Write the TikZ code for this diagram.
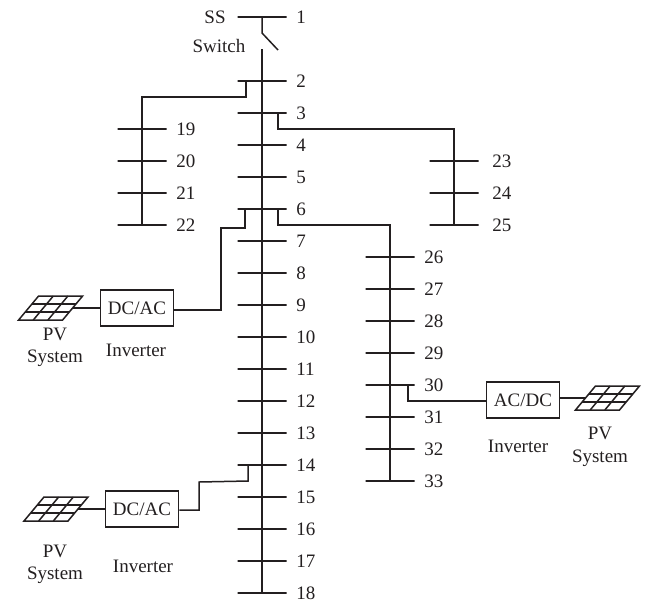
\documentclass[tikz,border=0pt]{standalone}
\usepackage{fontspec}
\setmainfont{Liberation Serif}
\usepackage{tikz}
\usetikzlibrary{positioning}
\definecolor{ink}{HTML}{231F20}
\tikzset{pvpanel/.pic={
\draw (-32,12) -- (12,12) -- (32,-12) -- (-12,-12) -- cycle;
\draw (-18.67,-4) -- (25.33,-4);
\draw (-25.33,4) -- (18.67,4);
\draw (-17.33,12) -- (2.67,-12);
\draw (-2.67,12) -- (17.33,-12);
\coordinate (-e) at (22,0);
\coordinate (-w) at (-22,0);
}}

\begin{document}
\begin{tikzpicture}[x=1pt, y=-1pt, node distance=32pt, line width=1.5pt, color=ink,
every node/.style = {font=\fontsize{19}{21}\selectfont},
main/.style = {draw, inner sep=0pt, outer sep=0pt, minimum width=49pt, minimum height=0pt},
num/.style = {inner sep=0pt},
txt/.style = {inner sep=0pt},
inv/.style = {draw, inner sep=0pt, minimum width=73pt, minimum height=36pt}]
\useasboundingbox (0,0) rectangle (650,603);

\node[main] (1) at (262,17) {};
\node[main] (2) at (262,81) {};
\node[main] (3)[below of = 2] {};
\node[main] (4)[below of = 3] {};
\node[main] (5)[below of = 4] {};
\node[main] (6)[below of = 5] {};
\node[main] (7)[below of = 6] {};
\node[main] (8)[below of = 7] {};
\node[main] (9)[below of = 8] {};
\node[main] (10)[below of = 9] {};
\node[main] (11)[below of = 10] {};
\node[main] (12)[below of = 11] {};
\node[main] (13)[below of = 12] {};
\node[main] (14)[below of = 13] {};
\node[main] (15)[below of = 14] {};
\node[main] (16)[below of = 15] {};
\node[main] (17)[below of = 16] {};
\node[main] (18)[below of = 17] {};

\node[main] (19) at (142,129) {};
\node[main] (20)[below of = 19] {};
\node[main] (21)[below of = 20] {};
\node[main] (22)[below of = 21] {};

\node[main] (23) at (454,161) {};
\node[main] (24)[below of = 23] {};
\node[main] (25)[below of = 24] {};

\node[main] (26) at (390,257) {};
\node[main] (27)[below of = 26] {};
\node[main] (28)[below of = 27] {};
\node[main] (29)[below of = 28] {};
\node[main] (30)[below of = 29] {};
\node[main] (31)[below of = 30] {};
\node[main] (32)[below of = 31] {};
\node[main] (33)[below of = 32] {};

\node[num] (l1)[right=9pt of 1] {1};
\node[num] (l2)[right=9pt of 2] {2};
\node[num] (l3)[right=9pt of 3] {3};
\node[num] (l4)[right=9pt of 4] {4};
\node[num] (l5)[right=9pt of 5] {5};
\node[num] (l6)[right=9pt of 6] {6};
\node[num] (l7)[right=9pt of 7] {7};
\node[num] (l8)[right=9pt of 8] {8};
\node[num] (l9)[right=9pt of 9] {9};
\node[num] (l10)[right=9pt of 10] {10};
\node[num] (l11)[right=9pt of 11] {11};
\node[num] (l12)[right=9pt of 12] {12};
\node[num] (l13)[right=9pt of 13] {13};
\node[num] (l14)[right=9pt of 14] {14};
\node[num] (l15)[right=9pt of 15] {15};
\node[num] (l16)[right=9pt of 16] {16};
\node[num] (l17)[right=9pt of 17] {17};
\node[num] (l18)[right=9pt of 18] {18};
\node[num] (l19)[right=9pt of 19] {19};
\node[num] (l20)[right=9pt of 20] {20};
\node[num] (l21)[right=9pt of 21] {21};
\node[num] (l22)[right=9pt of 22] {22};
\node[num] (l23)[right=13pt of 23] {23};
\node[num] (l24)[right=13pt of 24] {24};
\node[num] (l25)[right=13pt of 25] {25};
\node[num] (l26)[right=9pt of 26] {26};
\node[num] (l27)[right=9pt of 27] {27};
\node[num] (l28)[right=9pt of 28] {28};
\node[num] (l29)[right=9pt of 29] {29};
\node[num] (l30)[right=9pt of 30] {30};
\node[num] (l31)[right=9pt of 31] {31};
\node[num] (l32)[right=9pt of 32] {32};
\node[num] (l33)[right=9pt of 33] {33};

\node[txt] (ss) at (215,17) {SS};
\node[txt] (switch) at (219,46) {Switch};

\node[inv] (inv1) at (137,308) {DC/AC};
\node[inv] (inv2) at (142,509) {DC/AC};
\node[inv] (inv3) at (523,400) {AC/DC};

\pic (pv1) at (50.6,308) {pvpanel};
\pic (pv2) at (56,509) {pvpanel};
\pic (pv3) at (607.5,398) {pvpanel};

\node[txt] (pvt1) at (55,334) {PV};
\node[txt] (sys1) at (55,358) {System};
\node[txt] (it1) at (136,350) {Inverter};
\node[txt] (pvt2) at (55,551) {PV};
\node[txt] (sys2) at (55,575) {System};
\node[txt] (it2) at (143,566) {Inverter};
\node[txt] (pvt3) at (600,433) {PV};
\node[txt] (sys3) at (600,458) {System};
\node[txt] (it3) at (518,446) {Inverter};

\coordinate (sw1) at (262,33);
\coordinate (sw2) at (278,50);
\coordinate (sw3) at (262,49);
\coordinate (a2) at (246,81);
\coordinate (k2) at (142,97);
\coordinate (a3) at (278,113);
\coordinate (k3) at (454,129);
\coordinate (a6) at (278,209);
\coordinate (k6) at (390,225);
\coordinate (b6) at (245,209);
\coordinate (c1) at (221,228);
\coordinate (a14) at (248,465);
\coordinate (c2) at (199,482);
\coordinate (c3) at (248,481);
\coordinate (a30) at (408,385);
\coordinate (c30) at (408,401);

\draw (1.center) -- (sw1) -- (sw2);
\draw (sw3) -- (18.center);
\draw (a2) |- (k2) -- (22.center);
\draw (a3) |- (k3) -- (25.center);
\draw (a6) |- (k6) -- (33.center);
\draw ([yshift=-2pt]inv1.east) -| (c1) -| (b6);
\draw ([yshift=-1pt]inv2.east) -| (c2) -- (c3) -- (a14);
\draw (a30) -- (c30) -- (inv3.west |- c30);
\draw (inv3.east |- pv3-w) -- (pv3-w);
\draw (pv1-e) -- (inv1.west |- pv1-e);
\draw (pv2-e) -- (inv2.west |- pv2-e);

\end{tikzpicture}
\end{document}
